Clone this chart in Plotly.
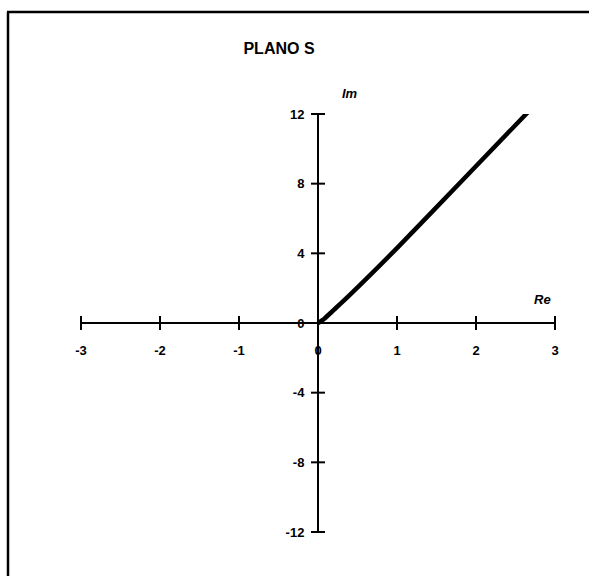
import plotly.graph_objects as go

# Locus in the s-plane (real part, imaginary part)
re_vals = [0.0, 0.08, 0.2, 0.4, 1.0, 1.85, 2.72]
im_vals = [0.0, 0.25, 0.75, 1.6, 4.3, 8.3, 12.4]

x_ticks = [-3, -2, -1, 0, 1, 2, 3]
y_ticks = [-12, -8, -4, 0, 4, 8, 12]

W, H = 589, 576
ML, MR, MT, MB = 81, 34, 114, 44
PW, PH = W - ML - MR, H - MT - MB

BOLD = dict(family="Liberation Sans, Arial, sans-serif", size=13, color="black", weight="bold")


def px_to_paper_x(px):
    return (px - ML) / PW


def px_to_paper_y(py):
    return (H - MB - py) / PH


fig = go.Figure()

# locus curve
fig.add_trace(go.Scatter(
    x=re_vals, y=im_vals, mode="lines",
    line=dict(color="black", width=4.5, shape="spline", smoothing=0.6),
    hoverinfo="skip", showlegend=False,
))

# cross-shaped tick marks on both axes
fig.add_trace(go.Scatter(
    x=x_ticks, y=[0] * len(x_ticks), mode="markers",
    marker=dict(symbol="line-ns", size=10, line=dict(color="black", width=2)),
    cliponaxis=False, hoverinfo="skip", showlegend=False,
))
fig.add_trace(go.Scatter(
    x=[0] * len(y_ticks), y=y_ticks, mode="markers",
    marker=dict(symbol="line-ew", size=10, line=dict(color="black", width=2)),
    cliponaxis=False, hoverinfo="skip", showlegend=False,
))

fig.update_xaxes(
    range=[-3, 3], anchor="free", position=0.5,
    showline=True, linecolor="black", linewidth=2,
    showgrid=False, zeroline=False,
    tickmode="array", tickvals=x_ticks, ticktext=[str(v) for v in x_ticks],
    ticks="outside", ticklen=15, tickcolor="rgba(0,0,0,0)",
    tickfont=BOLD,
)
fig.update_yaxes(
    range=[-12, 12], anchor="free", position=0.5,
    showline=True, linecolor="black", linewidth=2,
    showgrid=False, zeroline=False,
    tickmode="array", tickvals=y_ticks, ticktext=[str(v) for v in y_ticks],
    ticks="outside", ticklen=10, tickcolor="rgba(0,0,0,0)",
    tickfont=BOLD,
)

AXLABEL = dict(family="Liberation Sans, Arial", size=13, color="black")
fig.add_annotation(x=px_to_paper_x(350), y=px_to_paper_y(84), xref="paper", yref="paper",
                   text="<b><i>Im</i></b>", showarrow=False, font=AXLABEL)
fig.add_annotation(x=px_to_paper_x(553), y=px_to_paper_y(299), xref="paper", yref="paper",
                   text="<b><i>Re</i></b>", showarrow=False, font=AXLABEL)

# outer frame (left and top edges)
fig.add_shape(type="line", xref="paper", yref="paper",
              x0=px_to_paper_x(8), x1=px_to_paper_x(8),
              y0=px_to_paper_y(12), y1=px_to_paper_y(H + 5),
              line=dict(color="black", width=2.5))
fig.add_shape(type="line", xref="paper", yref="paper",
              x0=px_to_paper_x(7), x1=px_to_paper_x(W + 5),
              y0=px_to_paper_y(12), y1=px_to_paper_y(12),
              line=dict(color="black", width=2.5))

fig.update_layout(
    width=W, height=H,
    margin=dict(l=ML, r=MR, t=MT, b=MB),
    paper_bgcolor="white", plot_bgcolor="white",
    title=dict(text="<b>PLANO S</b>", xref="container", yref="container",
               x=279 / W, y=1 - 48 / H, xanchor="center", yanchor="middle",
               font=dict(family="Liberation Sans, Arial", size=16, color="black")),
    showlegend=False,
)

fig.write_html("out.html")
